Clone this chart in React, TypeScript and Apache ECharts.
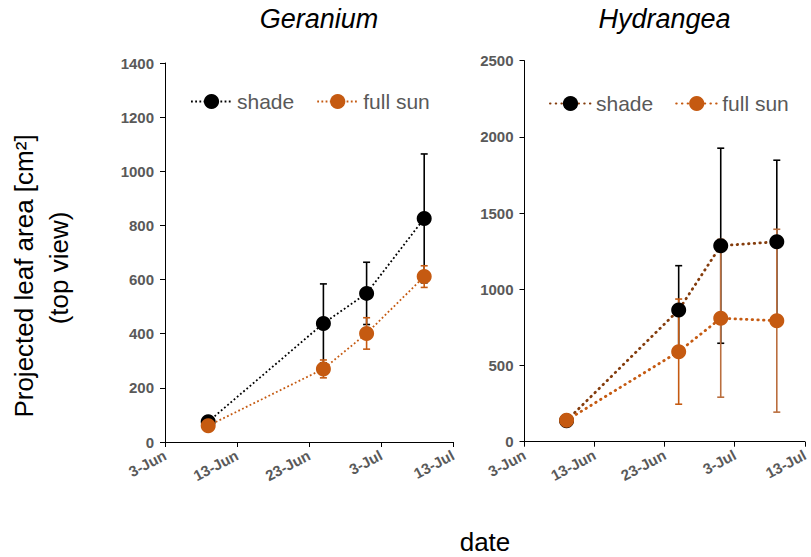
import React, { useEffect, useRef } from "react";
import * as echarts from "echarts";

// ---- data ----
const startDate = "2021-06-03";
const sampleDates = ["2021-06-09", "2021-06-25", "2021-07-01", "2021-07-09"];
const xTickLabels = ["3-Jun", "13-Jun", "23-Jun", "3-Jul", "13-Jul"];
const plantNames = ["Geranium", "Hydrangea"];
const treatmentNames = ["shade", "full sun"];

const geraniumShade = [75, 438, 549, 826];
const geraniumShadeErr = [10, 146, 115, 238];
const geraniumSun = [60, 270, 401, 611];
const geraniumSunErr = [8, 33, 58, 40];

const hydrangeaShade = [138, 864, 1286, 1312];
const hydrangeaShadeErr = [20, 291, 640, 535];
const hydrangeaSun = [140, 591, 810, 794];
const hydrangeaSunErr = [25, 345, 518, 600];

const yAxisTitle = "Projected leaf area [cm²]";
const yAxisTitle2 = "(top view)";
const xAxisTitle = "date";

// ---- helpers ----
const DAY = 24 * 3600 * 1000;
const dayOffset = (d: string) =>
  Math.round((Date.parse(d + "T00:00:00Z") - Date.parse(startDate + "T00:00:00Z")) / DAY);
const xs = sampleDates.map(dayOffset);

const FONT = "'Liberation Sans', Arial, sans-serif";
const ORANGE = "#C55A11";
const BROWN = "#843C0C";
const LABEL_GRAY = "#595959";

function lineSeries(name: string, idx: number, vals: number[], markerColor: string, lineColor: string, lineWidth: number, dash: number[], cap: string, z: number) {
  return {
    type: "line",
    name,
    xAxisIndex: idx,
    yAxisIndex: idx,
    data: xs.map((x, i) => [x, vals[i]]),
    symbol: "circle",
    symbolSize: 15,
    itemStyle: { color: markerColor },
    lineStyle: { color: lineColor, width: lineWidth, type: dash, cap },
    z,
  };
}

function errSeries(idx: number, vals: number[], errs: number[], colors: string[], z: number) {
  return {
    type: "custom",
    xAxisIndex: idx,
    yAxisIndex: idx,
    z,
    silent: true,
    encode: { x: 0, y: 1 },
    data: xs.map((x, i) => [x, vals[i], errs[i]]),
    renderItem: (params: any, api: any) => {
      const x = api.value(0);
      const y = api.value(1);
      const e = api.value(2);
      const top = api.coord([x, y + e]);
      const bot = api.coord([x, y - e]);
      const c = colors[Math.min(params.dataIndex, colors.length - 1)];
      const w = 3.5;
      const st = { stroke: c, lineWidth: 1.6 };
      return {
        type: "group",
        children: [
          { type: "line", shape: { x1: top[0], y1: top[1], x2: bot[0], y2: bot[1] }, style: st },
          { type: "line", shape: { x1: top[0] - w, y1: top[1], x2: top[0] + w, y2: top[1] }, style: st },
          { type: "line", shape: { x1: bot[0] - w, y1: bot[1], x2: bot[0] + w, y2: bot[1] }, style: st },
        ],
      };
    },
  };
}

export default function App() {
  const ref = useRef<HTMLDivElement>(null);
  useEffect(() => {
    document.body.style.margin = "0";
    if (!ref.current) return;
    const chart = echarts.init(ref.current, null, { renderer: "svg" });

    const axisLabel = { color: LABEL_GRAY, fontWeight: "bold", fontSize: 15, fontFamily: FONT };
    const axisLine = { show: true, lineStyle: { color: "#000", width: 1 } };
    const axisTick = { show: true, length: 5, lineStyle: { color: "#000", width: 1 } };

    const xAxis = (gridIndex: number) => ({
      type: "value",
      gridIndex,
      min: 0,
      max: 40,
      interval: 10,
      axisLine,
      axisTick,
      splitLine: { show: false },
      axisLabel: {
        ...axisLabel,
        rotate: 28,
        margin: 12,
        formatter: (v: number) => xTickLabels[Math.round(v / 10)] ?? "",
      },
    });
    const yAxis = (gridIndex: number, max: number, interval: number) => ({
      type: "value",
      gridIndex,
      min: 0,
      max,
      interval,
      axisLine,
      axisTick,
      splitLine: { show: false },
      axisLabel: { ...axisLabel, margin: 11, formatter: (v: number) => String(v) },
    });

    const legend = (idx: number, left: number, top: number) => ({
      left,
      top,
      padding: 0,
      orient: "horizontal",
      itemWidth: 41,
      itemHeight: 19,
      itemGap: 22,
      data: treatmentNames.map((t) => plantNames[idx] + "|" + t),
      formatter: (n: string) => n.split("|")[1],
      textStyle: { color: LABEL_GRAY, fontSize: 21, fontFamily: FONT },
      selectedMode: false,
    });

    const option: any = {
      animation: false,
      backgroundColor: "#fff",
      grid: [
        { left: 165, top: 63, width: 288, height: 379 },
        { left: 524.5, top: 60.7, width: 283.5, height: 381 },
      ],
      xAxis: [xAxis(0), xAxis(1)],
      yAxis: [yAxis(0, 1400, 200), yAxis(1, 2500, 500)],
      legend: [legend(0, 190, 91), legend(1, 549, 93)],
      series: [
        errSeries(0, geraniumShade, geraniumShadeErr, ["#000"], 1),
        errSeries(0, geraniumSun, geraniumSunErr, [ORANGE], 1),
        lineSeries(plantNames[0] + "|" + treatmentNames[0], 0, geraniumShade, "#000", "#000", 1.8, [1.8, 2.4], "butt", 2),
        lineSeries(plantNames[0] + "|" + treatmentNames[1], 0, geraniumSun, ORANGE, ORANGE, 1.8, [1.8, 2.4], "butt", 3),
        errSeries(1, hydrangeaShade, hydrangeaShadeErr, ["#000"], 1),
        errSeries(1, hydrangeaSun, hydrangeaSunErr, [ORANGE, ORANGE, "#BA6E3E", "#BA6E3E"], 1),
        lineSeries(plantNames[1] + "|" + treatmentNames[0], 1, hydrangeaShade, "#000", BROWN, 2.8, [0.5, 5.2], "round", 2),
        lineSeries(plantNames[1] + "|" + treatmentNames[1], 1, hydrangeaSun, ORANGE, ORANGE, 2.8, [0.5, 5.2], "round", 3),
      ],
      graphic: [
        { type: "text", x: 319, y: 18.6, style: { text: plantNames[0], fontSize: 27, fontStyle: "italic", fontFamily: FONT, fill: "#000", align: "center", verticalAlign: "middle" } },
        { type: "text", x: 664.5, y: 18.6, style: { text: plantNames[1], fontSize: 27, fontStyle: "italic", fontFamily: FONT, fill: "#000", align: "center", verticalAlign: "middle" } },
        { type: "text", x: 485, y: 541.5, style: { text: xAxisTitle, fontSize: 26, fontFamily: FONT, fill: "#000", align: "center", verticalAlign: "middle" } },
        { type: "text", x: 24, y: 276, rotation: Math.PI / 2, style: { text: yAxisTitle, fontSize: 26, fontFamily: FONT, fill: "#000", align: "center", verticalAlign: "middle" } },
        { type: "text", x: 59, y: 268, rotation: Math.PI / 2, style: { text: yAxisTitle2, fontSize: 26, fontFamily: FONT, fill: "#000", align: "center", verticalAlign: "middle" } },
      ],
    };
    chart.setOption(option);
    return () => chart.dispose();
  }, []);
  return <div ref={ref} style={{ width: 811, height: 557 }} />;
}
